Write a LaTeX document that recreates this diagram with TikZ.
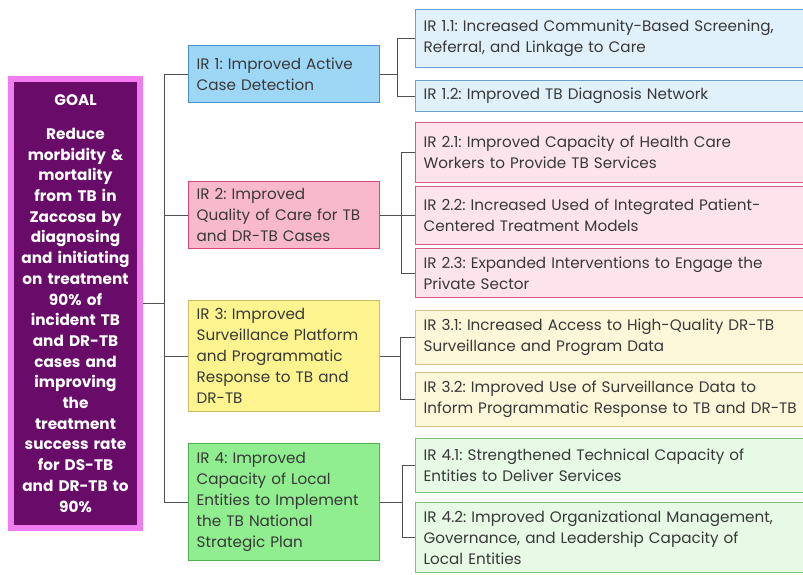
\documentclass[tikz,border=0pt]{standalone}
\usepackage{fontspec}
\setmainfont{Poppins}
\usetikzlibrary{calc}
\frenchspacing
\definecolor{txt}{HTML}{383838}
\definecolor{conncol}{HTML}{505050}
\definecolor{goalfill}{HTML}{690C69}
\definecolor{goalline}{HTML}{F07CF0}
\definecolor{aF}{HTML}{9DD7F5}\definecolor{aD}{HTML}{4A8ED0}
\definecolor{aFl}{HTML}{E0F1FB}\definecolor{aDl}{HTML}{6A9FD6}
\definecolor{bF}{HTML}{F8B9CC}\definecolor{bD}{HTML}{D9477A}
\definecolor{bFl}{HTML}{FDE4EC}\definecolor{bDl}{HTML}{D9588A}
\definecolor{cF}{HTML}{FDF48F}\definecolor{cD}{HTML}{CDBB6A}
\definecolor{cFl}{HTML}{FDF7DA}\definecolor{cDl}{HTML}{D6C384}
\definecolor{dF}{HTML}{90EE90}\definecolor{dD}{HTML}{4CAF50}
\definecolor{dFl}{HTML}{E6FAE6}\definecolor{dDl}{HTML}{7CC47C}
\tikzset{
  box/.style={rectangle, anchor=north west, line width=1.3pt, inner xsep=8pt, inner ysep=0pt,
    align=left, text=txt, font=\frenchspacing\fontsize{15.2}{21}\selectfont},
  lvtwo/.style={box, minimum width=191pt, text width=175pt},
  lvthree/.style={box, minimum width=400pt, text width=384pt},
  conn/.style={draw=conncol, line width=0.9pt},
}
\begin{document}
\begin{tikzpicture}[x=1pt,y=-1pt]
\useasboundingbox (0,0) rectangle (803,575);
\clip (0,0) rectangle (803,575);
% goal
\node[draw=goalline, fill=goalfill, line width=6pt, minimum width=129pt, minimum height=449pt,
  text width=128pt, align=center, text=white, inner sep=0pt,
  font=\bfseries\fontsize{15.3}{20.7}\selectfont] (goal) at (75.5,303.5)
  {GOAL\\[13pt]Reduce\\morbidity \&\\mortality\\from TB in\\Zaccosa by\\diagnosing\\and initiating\\on treatment\\90\% of\\incident TB\\and DR-TB\\cases and\\improving\\the\\treatment\\success rate\\for DS-TB\\and DR-TB to\\90\%};
% level 2
\node[lvtwo, fill=aF, draw=aD, minimum height=57pt] (ir1) at (188,45) {IR 1: Improved Active\\Case Detection};
\node[lvtwo, fill=bF, draw=bD, minimum height=67pt] (ir2) at (188,181) {IR 2: Improved\\Quality of Care for TB\\and DR-TB Cases};
\node[lvtwo, fill=cF, draw=cD, minimum height=111pt] (ir3) at (188,300) {IR 3: Improved\\Surveillance Platform\\and Programmatic\\Response to TB and\\DR-TB};
\node[lvtwo, fill=dF, draw=dD, minimum height=117pt] (ir4) at (188,443) {IR 4: Improved\\Capacity of Local\\Entities to Implement\\the TB National\\Strategic Plan};
% level 3
\node[lvthree, fill=aFl, draw=aDl, minimum height=58pt] (ir11) at (415,9) {IR 1.1: Increased Community-Based Screening,\\Referral, and Linkage to Care};
\node[lvthree, fill=aFl, draw=aDl, minimum height=31pt] (ir12) at (415,80) {IR 1.2: Improved TB Diagnosis Network};
\node[lvthree, fill=bFl, draw=bDl, minimum height=60pt] (ir21) at (415,122) {IR 2.1: Improved Capacity of Health Care\\Workers to Provide TB Services};
\node[lvthree, fill=bFl, draw=bDl, minimum height=58pt] (ir22) at (415,186) {IR 2.2: Increased Used of Integrated Patient-\\Centered Treatment Models};
\node[lvthree, fill=bFl, draw=bDl, minimum height=49pt] (ir23) at (415,248) {IR 2.3: Expanded Interventions to Engage the\\Private Sector};
\node[lvthree, fill=cFl, draw=cDl, minimum height=54pt] (ir31) at (415,310) {IR 3.1: Increased Access to High-Quality DR-TB\\Surveillance and Program Data};
\node[lvthree, fill=cFl, draw=cDl, minimum height=54pt] (ir32) at (415,372) {IR 3.2: Improved Use of Surveillance Data to\\Inform Programmatic Response to TB and DR-TB};
\node[lvthree, fill=dFl, draw=dDl, minimum height=54pt] (ir41) at (415,438) {IR 4.1: Strengthened Technical Capacity of\\Entities to Deliver Services};
\node[lvthree, fill=dFl, draw=dDl, minimum height=70pt] (ir42) at (415,502) {IR 4.2: Improved Organizational Management,\\Governance, and Leadership Capacity of\\Local Entities};
% connectors goal -> IR
\coordinate (s0) at (164,0);
\draw[conn] (ir1.west) -- (ir1.west -| s0) |- (ir4.west);
\draw[conn] (ir2.west) -- (ir2.west -| s0);
\draw[conn] (ir3.west) -- (ir3.west -| s0);
\draw[conn] (goal.east) -- (goal.east -| s0);
% IR1
\coordinate (s1) at (397,0);
\draw[conn] (ir1.east) -- (ir1.east -| s1);
\draw[conn] (ir11.west) -- (ir11.west -| s1) |- (ir12.west);
% IR2
\coordinate (s2) at (401,0);
\draw[conn] (ir2.east) -- (ir2.east -| s2);
\draw[conn] (ir21.west) -- (ir21.west -| s2) |- (ir23.west);
\draw[conn] (ir22.west) -- (ir22.west -| s2);
% IR3
\coordinate (s3) at (400,0);
\draw[conn] (ir3.east) -- (ir3.east -| s3);
\draw[conn] (ir31.west) -- (ir31.west -| s3) |- (ir32.west);
% IR4
\coordinate (s4) at (402,0);
\draw[conn] (ir4.east) -- (ir4.east -| s4);
\draw[conn] (ir41.west) -- (ir41.west -| s4) |- (ir42.west);
\end{tikzpicture}
\end{document}
